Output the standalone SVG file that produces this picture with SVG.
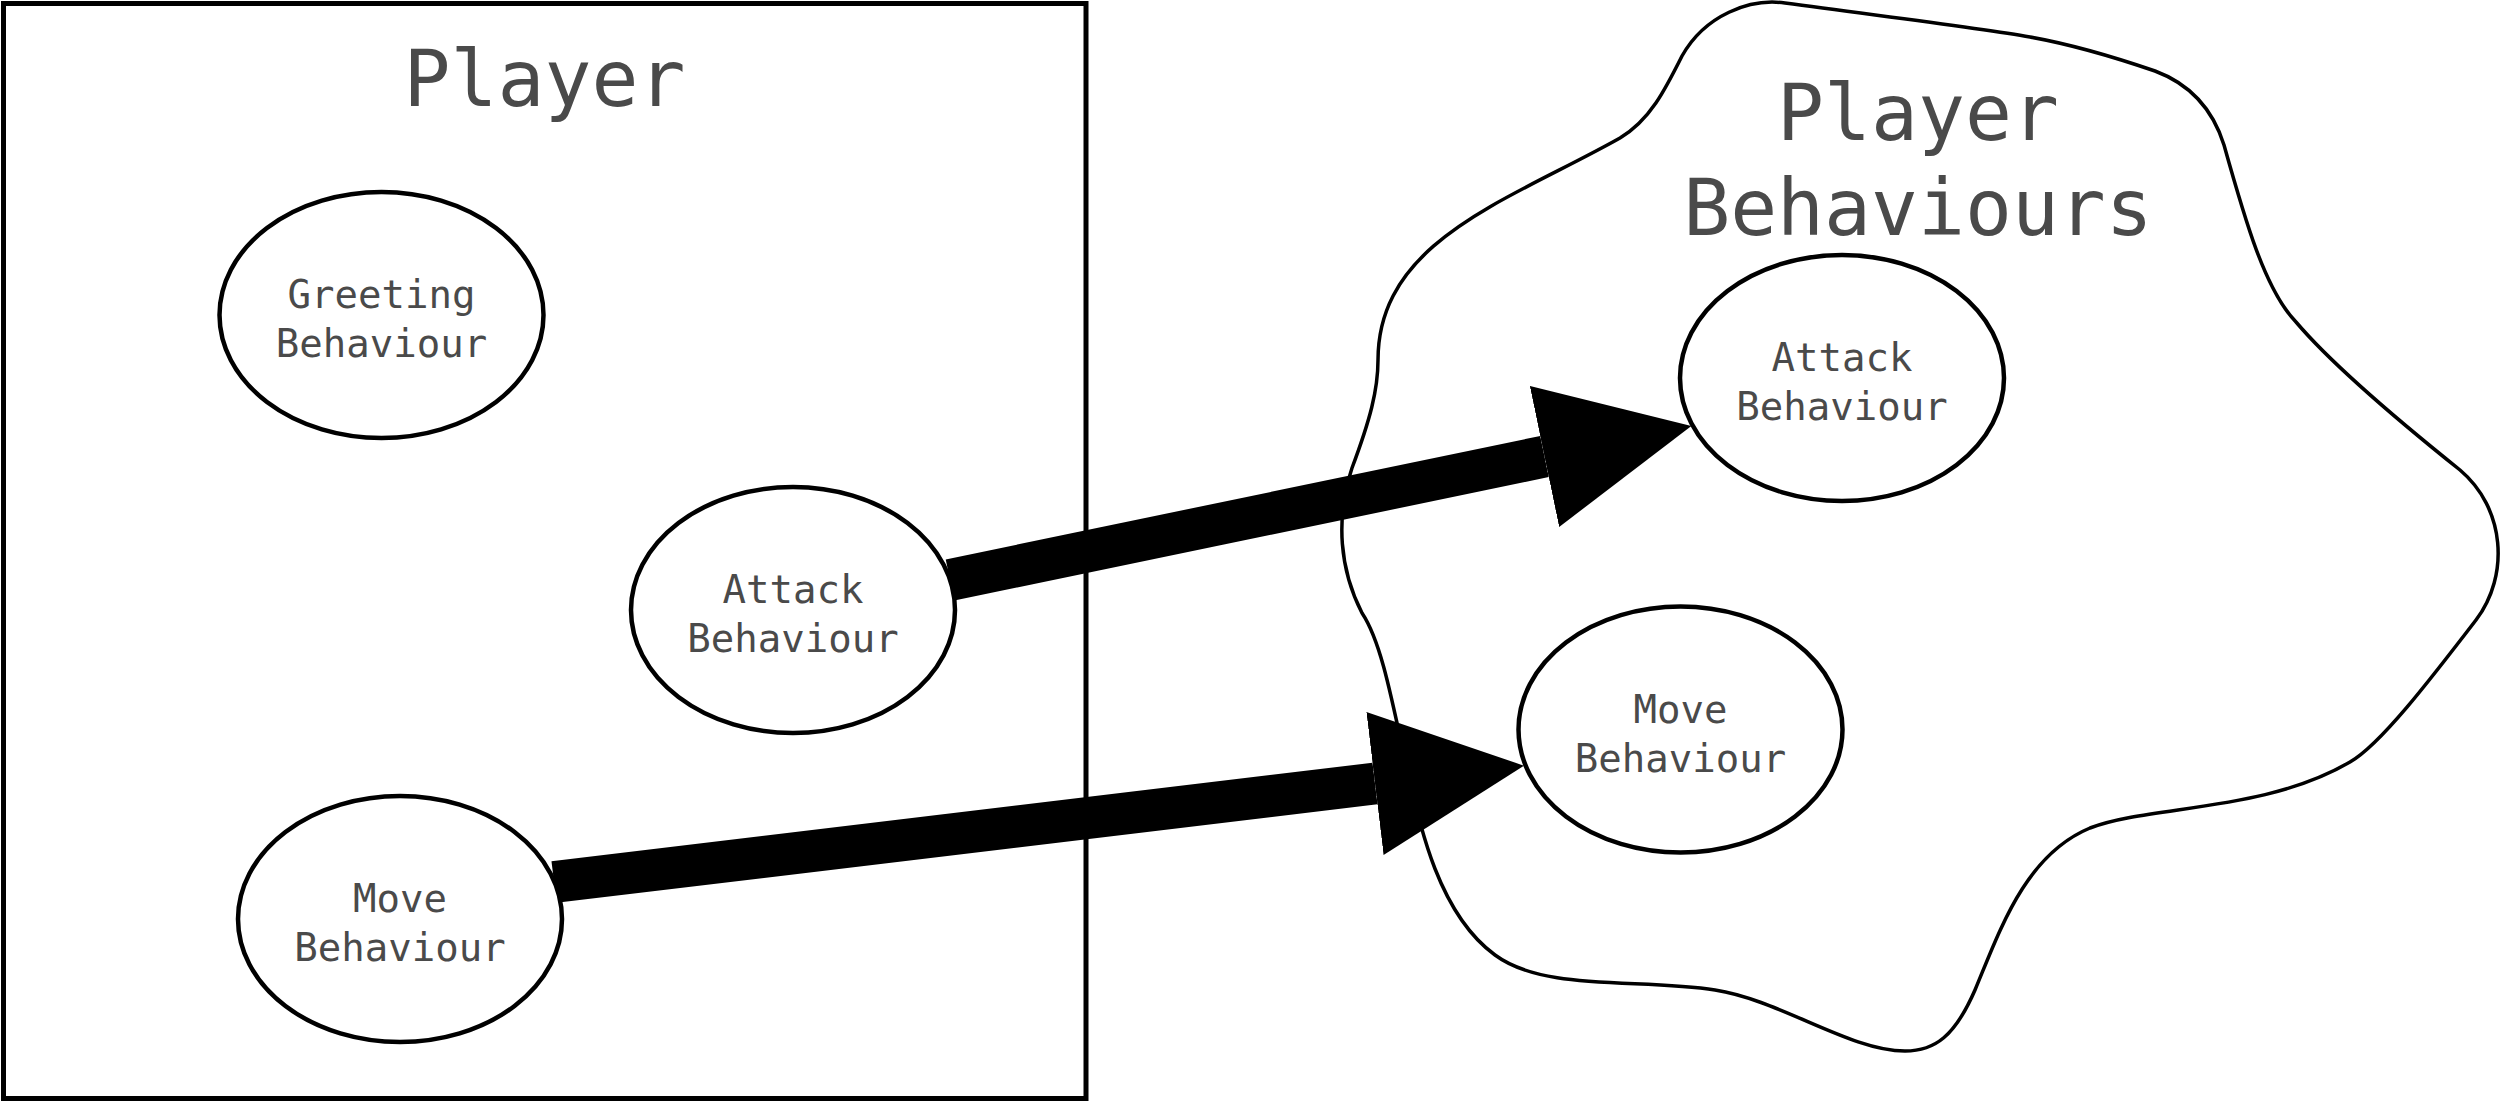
<svg xmlns="http://www.w3.org/2000/svg" width="2500" height="1104" viewBox="0 0 2500 1104">
<style>
.bg{fill:#ffffff}
.frame{fill:#ffffff;stroke:#000;stroke-width:5}
.blob{fill:#ffffff;stroke:#000;stroke-width:3.5}
.node{fill:#ffffff;stroke:#000;stroke-width:4.5}
.lbl{font-family:"DejaVu Sans Mono","Liberation Mono",monospace;font-size:39px;fill:#4a4a4a;text-anchor:middle}
.title{font-family:"DejaVu Sans Mono","Liberation Mono",monospace;font-size:78px;fill:#4a4a4a;text-anchor:middle}
.edge{stroke:#000;stroke-width:42;fill:none;marker-end:url(#head)}
</style>
<defs>
<marker id="head" markerUnits="userSpaceOnUse" viewBox="0 0 150 144" markerWidth="150" markerHeight="144" refX="0" refY="72" orient="auto">
<path d="M0,0 L150,72 L0,144 Z" fill="#000"/>
</marker>
</defs>
<rect class="bg" x="0" y="0" width="2500" height="1104"/>
<g id="player">
<rect class="frame" x="3.5" y="3.5" width="1082.5" height="1095"/>
<text class="title" x="544.5" y="106">Player</text>
</g>
<g id="player-behaviours">
<path class="blob" d="M 1785,3 C 1880,16 1980,28 2030,37 C 2075,45 2120,59 2155,71 C 2190,84 2213,110 2224,145 C 2245,220 2265,290 2296,322 C 2335,368 2410,430 2460,470 C 2505,508 2510,575 2476,620 C 2430,680 2380,745 2350,762 C 2265,812 2150,805 2090,828 C 2025,855 2000,930 1975,990 C 1955,1036 1935,1051 1905,1051 C 1850,1051 1780,1000 1715,990 C 1640,978 1545,992 1495,955 C 1440,915 1420,830 1405,760 C 1390,690 1380,640 1362,613 C 1340,570 1335,520 1352,468 C 1370,420 1378,390 1378,360 C 1378,240 1510,200 1620,138 C 1650,120 1665,90 1682,56 C 1705,15 1750,-2 1785,3 Z"/>
<text class="title" x="1918" y="140">Player</text>
<text class="title" x="1918" y="235">Behaviours</text>
</g>
<g id="connectors">
<path class="edge" d="M 950,580 L 1544.5,456.5"/>
<path class="edge" d="M 554,882 L 1375,783.5"/>
</g>
<g id="greeting-behaviour">
<ellipse class="node" cx="381.5" cy="315" rx="162" ry="123"/>
<text class="lbl" x="381.5" y="308">Greeting</text>
<text class="lbl" x="381.5" y="357">Behaviour</text>
</g>
<g id="attack-behaviour-player">
<ellipse class="node" cx="793" cy="610" rx="162" ry="123"/>
<text class="lbl" x="793" y="603">Attack</text>
<text class="lbl" x="793" y="652">Behaviour</text>
</g>
<g id="move-behaviour-player">
<ellipse class="node" cx="400" cy="919" rx="162" ry="123"/>
<text class="lbl" x="400" y="912">Move</text>
<text class="lbl" x="400" y="961">Behaviour</text>
</g>
<g id="attack-behaviour">
<ellipse class="node" cx="1842" cy="378" rx="162" ry="123"/>
<text class="lbl" x="1842" y="371">Attack</text>
<text class="lbl" x="1842" y="420">Behaviour</text>
</g>
<g id="move-behaviour">
<ellipse class="node" cx="1680.5" cy="729.5" rx="162" ry="123"/>
<text class="lbl" x="1680.5" y="723">Move</text>
<text class="lbl" x="1680.5" y="772">Behaviour</text>
</g>
</svg>
